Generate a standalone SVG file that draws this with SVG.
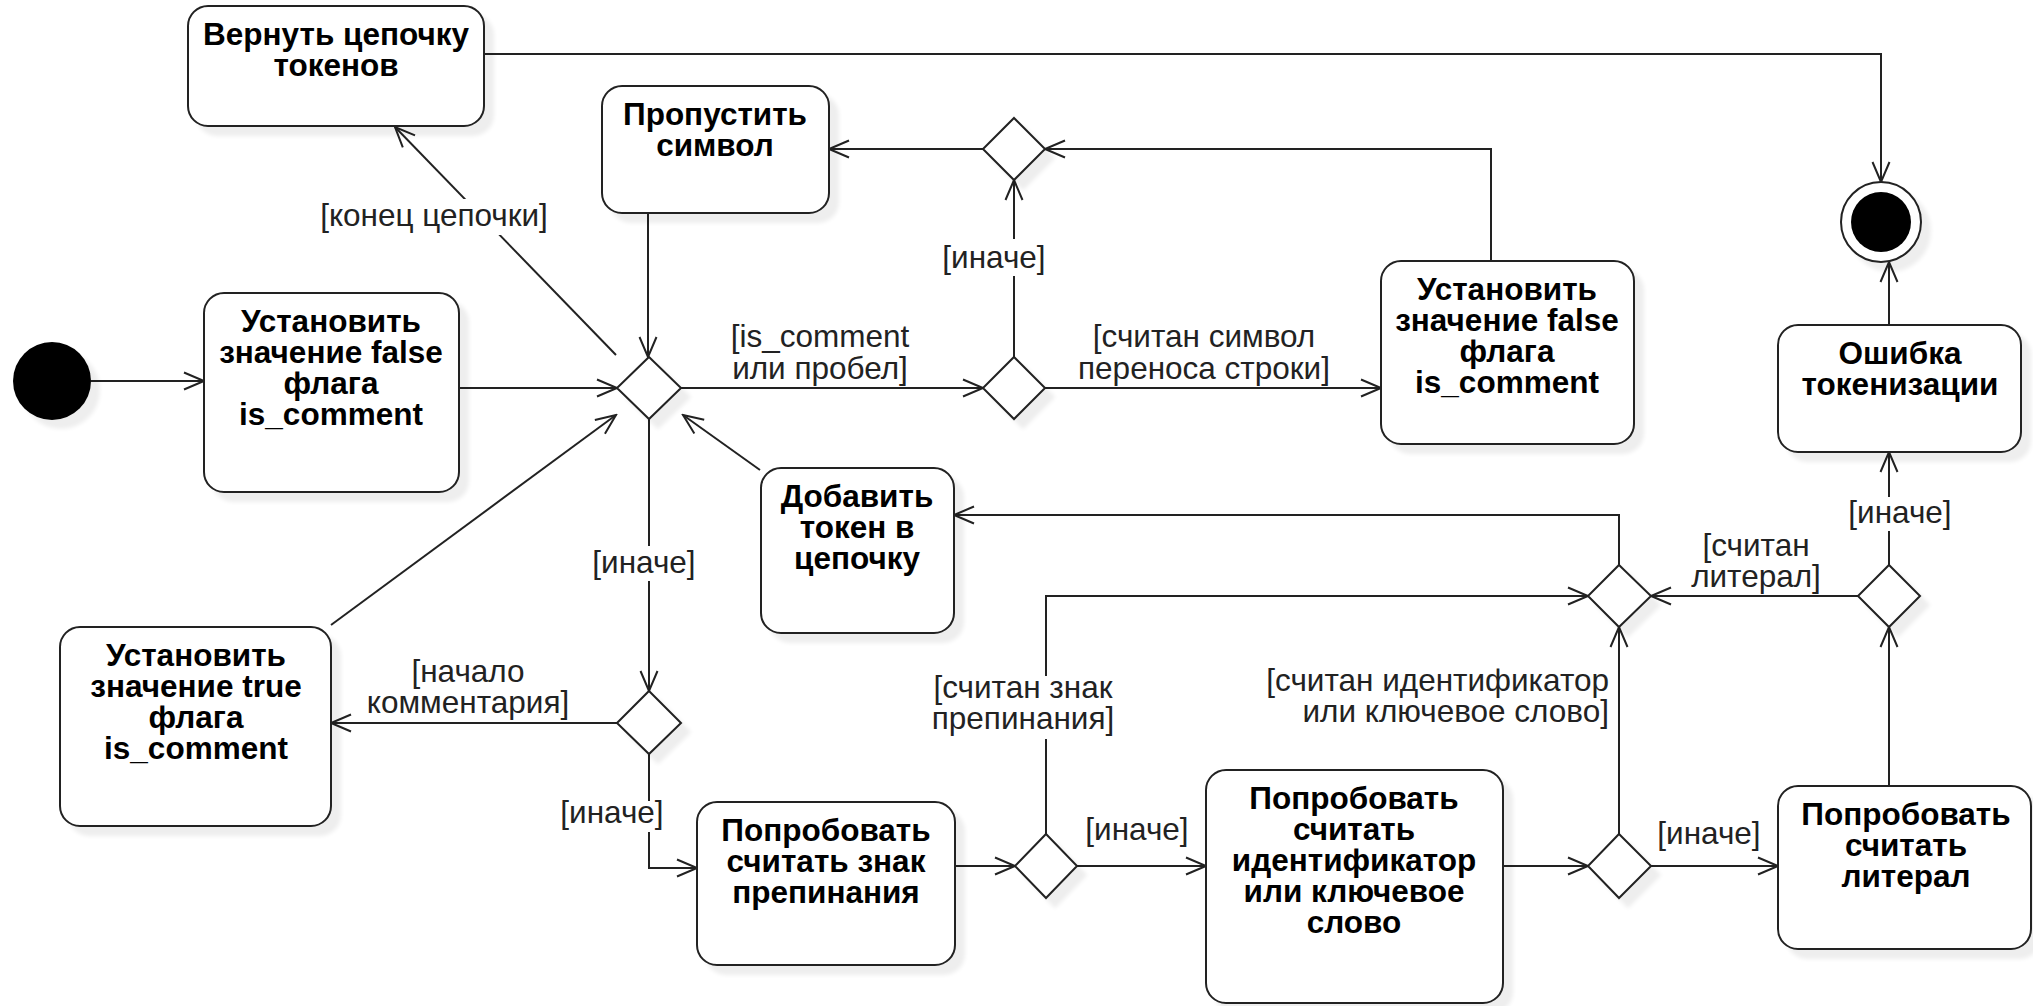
<svg xmlns="http://www.w3.org/2000/svg" width="2033" height="1006" viewBox="0 0 2033 1006">
<style>
.box{fill:#fff;stroke:#222;stroke-width:2}
.dia{fill:#fff;stroke:#222;stroke-width:2}
.t{font-family:"Liberation Sans",Arial,sans-serif;font-weight:bold;font-size:31.5px;text-anchor:middle;fill:#000}
.l{font-family:"Liberation Sans",Arial,sans-serif;font-size:31.5px;text-anchor:middle;fill:#222}
.e{fill:none;stroke:#222;stroke-width:2;marker-end:url(#arr)}
.bg{fill:#fff;stroke:none}
</style>
<defs>
<marker id="arr" markerUnits="userSpaceOnUse" markerWidth="24" markerHeight="22" viewBox="-2 -2 24 21" refX="20" refY="8.5" orient="auto">
<path d="M0,0 L20,8.5 L0,17" fill="none" stroke="#222" stroke-width="2"/>
</marker>
<filter id="sh" x="-20%" y="-20%" width="150%" height="150%">
<feGaussianBlur in="SourceAlpha" stdDeviation="2"/>
<feOffset dx="9" dy="9" result="o"/>
<feComponentTransfer><feFuncA type="linear" slope="0.07"/></feComponentTransfer>
<feMerge><feMergeNode/><feMergeNode in="SourceGraphic"/></feMerge>
</filter>
</defs>
<rect width="2033" height="1006" fill="#fff"/>

<g id="connectors">
<path class="e" d="M91,381 L204,381"/>
<path class="e" d="M459,388 L617,388"/>
<path class="e" d="M616,355 L395,127"/>
<path class="e" d="M648,213 L648,357"/>
<path class="e" d="M681,388 L983,388"/>
<path class="e" d="M1014,357 L1014,180"/>
<path class="e" d="M983,149 L829,149"/>
<path class="e" d="M1491,261 L1491,149 L1045,149"/>
<path class="e" d="M1045,388 L1381,388"/>
<path class="e" d="M484,54 L1881,54 L1881,182"/>
<path class="e" d="M1889,325 L1889,262"/>
<path class="e" d="M649,419 L649,691"/>
<path class="e" d="M617,723 L331,723"/>
<path class="e" d="M331,625 L616,415"/>
<path class="e" d="M760,470 L683,415"/>
<path class="e" d="M649,754 L649,868 L697,868"/>
<path class="e" d="M955,866 L1015,866"/>
<path class="e" d="M1077,866 L1206,866"/>
<path class="e" d="M1046,834 L1046,596 L1588,596"/>
<path class="e" d="M1503,866 L1588,866"/>
<path class="e" d="M1619,834 L1619,627"/>
<path class="e" d="M1651,866 L1778,866"/>
<path class="e" d="M1889,786 L1889,627"/>
<path class="e" d="M1858,596 L1651,596"/>
<path class="e" d="M1889,565 L1889,452"/>
<path class="e" d="M1619,565 L1619,515 L954,515"/>

<g id="labels">
<rect class="bg" x="318" y="199" width="234" height="36"/>
<text class="l" x="434" y="226">[конец цепочки]</text>
<text class="l" x="820" y="347">[is_comment</text>
<text class="l" x="820" y="379">или пробел]</text>
<text class="l" x="1204" y="347">[считан символ</text>
<text class="l" x="1204" y="379">переноса строки]</text>
<rect class="bg" x="941" y="239" width="106" height="37"/>
<text class="l" x="994" y="268">[иначе]</text>
<rect class="bg" x="591" y="546" width="106" height="35"/>
<text class="l" x="644" y="573">[иначе]</text>
<text class="l" x="468" y="682">[начало</text>
<text class="l" x="468" y="713">комментария]</text>
<rect class="bg" x="559" y="801" width="106" height="31"/>
<text class="l" x="612" y="823">[иначе]</text>
<rect class="bg" x="928" y="676" width="190" height="63"/>
<text class="l" x="1023" y="698">[считан знак</text>
<text class="l" x="1023" y="729">препинания]</text>
<text class="l" x="1137" y="840">[иначе]</text>
<text class="l" x="1609" y="691" style="text-anchor:end">[считан идентификатор</text>
<text class="l" x="1609" y="722" style="text-anchor:end">или ключевое слово]</text>
<text class="l" x="1709" y="844">[иначе]</text>
<text class="l" x="1756" y="556">[считан</text>
<text class="l" x="1756" y="587">литерал]</text>
<rect class="bg" x="1847" y="497" width="106" height="34"/>
<text class="l" x="1900" y="523">[иначе]</text>
</g>
</g>

<g id="start"><circle cx="52" cy="381" r="39" fill="#000" filter="url(#sh)"/></g>

<g id="final">
<circle cx="1881" cy="222" r="40" fill="#fff" stroke="#222" stroke-width="2" filter="url(#sh)"/>
<circle cx="1881" cy="222" r="30" fill="#000"/>
</g>

<g id="return-chain">
<rect class="box" x="188" y="6" width="296" height="120" rx="20" filter="url(#sh)"/>
<text class="t"><tspan x="336" y="45">Вернуть цепочку</tspan><tspan x="336" y="76">токенов</tspan></text>
</g>

<g id="set-false-1">
<rect class="box" x="204" y="293" width="255" height="199" rx="20" filter="url(#sh)"/>
<text class="t"><tspan x="331" y="332">Установить</tspan><tspan x="331" y="363">значение false</tspan><tspan x="331" y="394">флага</tspan><tspan x="331" y="425">is_comment</tspan></text>
</g>

<g id="skip-symbol">
<rect class="box" x="602" y="86" width="227" height="127" rx="20" filter="url(#sh)"/>
<text class="t"><tspan x="715" y="125">Пропустить</tspan><tspan x="715" y="156">символ</tspan></text>
</g>

<g id="set-false-2">
<rect class="box" x="1381" y="261" width="253" height="183" rx="20" filter="url(#sh)"/>
<text class="t"><tspan x="1507" y="300">Установить</tspan><tspan x="1507" y="331">значение false</tspan><tspan x="1507" y="362">флага</tspan><tspan x="1507" y="393">is_comment</tspan></text>
</g>

<g id="error">
<rect class="box" x="1778" y="325" width="243" height="127" rx="20" filter="url(#sh)"/>
<text class="t"><tspan x="1900" y="364">Ошибка</tspan><tspan x="1900" y="395">токенизации</tspan></text>
</g>

<g id="set-true">
<rect class="box" x="60" y="627" width="271" height="199" rx="20" filter="url(#sh)"/>
<text class="t"><tspan x="196" y="666">Установить</tspan><tspan x="196" y="697">значение true</tspan><tspan x="196" y="728">флага</tspan><tspan x="196" y="759">is_comment</tspan></text>
</g>

<g id="add-token">
<rect class="box" x="761" y="468" width="193" height="165" rx="20" filter="url(#sh)"/>
<text class="t"><tspan x="857" y="507">Добавить</tspan><tspan x="857" y="538">токен в</tspan><tspan x="857" y="569">цепочку</tspan></text>
</g>

<g id="try-punct">
<rect class="box" x="697" y="802" width="258" height="163" rx="20" filter="url(#sh)"/>
<text class="t"><tspan x="826" y="841">Попробовать</tspan><tspan x="826" y="872">считать знак</tspan><tspan x="826" y="903">препинания</tspan></text>
</g>

<g id="try-ident">
<rect class="box" x="1206" y="770" width="297" height="233" rx="20" filter="url(#sh)"/>
<text class="t"><tspan x="1354" y="809">Попробовать</tspan><tspan x="1354" y="840">считать</tspan><tspan x="1354" y="871">идентификатор</tspan><tspan x="1354" y="902">или ключевое</tspan><tspan x="1354" y="933">слово</tspan></text>
</g>

<g id="try-literal">
<rect class="box" x="1778" y="786" width="253" height="163" rx="20" filter="url(#sh)"/>
<text class="t"><tspan x="1906" y="825">Попробовать</tspan><tspan x="1906" y="856">считать</tspan><tspan x="1906" y="887">литерал</tspan></text>
</g>

<g id="d-main"><path class="dia" d="M649,357 L681,388 L649,419 L617,388 Z" filter="url(#sh)"/></g>
<g id="d-skip"><path class="dia" d="M1014,118 L1045,149 L1014,180 L983,149 Z" filter="url(#sh)"/></g>
<g id="d-ws"><path class="dia" d="M1014,357 L1045,388 L1014,419 L983,388 Z" filter="url(#sh)"/></g>
<g id="d-comment"><path class="dia" d="M649,691 L681,723 L649,754 L617,723 Z" filter="url(#sh)"/></g>
<g id="d-punct"><path class="dia" d="M1046,834 L1077,866 L1046,898 L1015,866 Z" filter="url(#sh)"/></g>
<g id="d-ident"><path class="dia" d="M1619,834 L1651,866 L1619,898 L1588,866 Z" filter="url(#sh)"/></g>
<g id="d-merge"><path class="dia" d="M1619,565 L1651,596 L1619,627 L1588,596 Z" filter="url(#sh)"/></g>
<g id="d-literal"><path class="dia" d="M1889,565 L1920,596 L1889,627 L1858,596 Z" filter="url(#sh)"/></g>
</svg>
